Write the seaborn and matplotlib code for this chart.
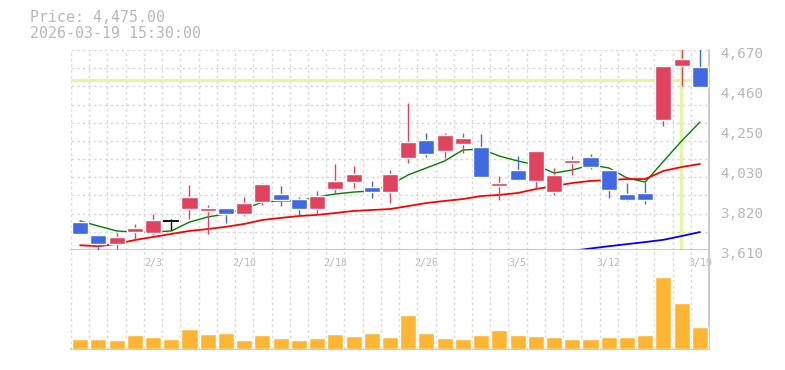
import numpy as np
import pandas as pd
import matplotlib
matplotlib.use('Agg')
import matplotlib.pyplot as plt
import matplotlib.transforms as mtransforms
import seaborn as sns

dates = ['1/28', '1/29', '1/30', '2/2', '2/3', '2/4', '2/5', '2/6', '2/9', '2/10',
         '2/12', '2/13', '2/16', '2/17', '2/18', '2/19', '2/20', '2/24', '2/25', '2/26',
         '2/27', '3/2', '3/3', '3/4', '3/5', '3/6', '3/9', '3/10', '3/11', '3/12',
         '3/13', '3/16', '3/17', '3/18', '3/19']
open_price = [3758, 3689, 3643, 3705, 3702, 3764, 3827, 3818, 3833, 3801,
              3866, 3907, 3880, 3827, 3933, 3970, 3944, 3917, 4099, 4193,
              4136, 4172, 4156, 3951, 4034, 3976, 3917, 4071, 4103, 4034,
              3907, 3912, 4299, 4585, 4580]
close_price = [3695, 3643, 3679, 3727, 3769, 3764, 3891, 3833, 3801, 3859,
               3960, 3875, 3827, 3896, 3976, 4013, 3917, 4013, 4182, 4119,
               4220, 4204, 3999, 3965, 3981, 4135, 4008, 4087, 4050, 3928,
               3875, 3875, 4585, 4622, 4475]
high_price = [3769, 3695, 3700, 3748, 3801, 3774, 3955, 3849, 3833, 3891,
              3965, 3949, 3891, 3923, 4066, 4055, 3976, 4034, 4389, 4230,
              4230, 4230, 4225, 4004, 4108, 4135, 4045, 4108, 4119, 4034,
              3965, 3970, 4585, 4720, 4720]
low_price = [3695, 3609, 3613, 3656, 3688, 3716, 3774, 3695, 3753, 3790,
             3849, 3843, 3796, 3796, 3907, 3939, 3886, 3859, 4071, 4103,
             4099, 4126, 3999, 3875, 3976, 3939, 3902, 4008, 4039, 3886,
             3870, 3854, 4267, 4479, 4475]
ma5 = [3764, 3737, 3711, 3705, 3705, 3711, 3758, 3785, 3801, 3827,
       3864, 3870, 3870, 3891, 3907, 3917, 3923, 3955, 4008, 4045,
       4082, 4140, 4145, 4108, 4082, 4061, 4018, 4034, 4061, 4045,
       3992, 3970, 4080, 4188, 4288]
ma25 = [3635, 3630, 3642, 3663, 3679, 3695, 3711, 3721, 3733, 3748,
        3769, 3780, 3790, 3796, 3806, 3817, 3822, 3827, 3843, 3859,
        3870, 3880, 3896, 3902, 3912, 3933, 3949, 3965, 3976, 3981,
        3986, 3986, 4029, 4050, 4066]
ma75 = [np.nan] * 27 + [3605, 3618, 3630, 3641, 3652, 3664, 3684, 3705]
volume = [100, 100, 90, 140, 120, 100, 200, 150, 160, 90,
          140, 110, 90, 110, 150, 130, 160, 120, 340, 160,
          110, 100, 140, 190, 140, 130, 120, 100, 100, 120,
          120, 140, 720, 460, 220]
price_ticks = [3610, 3822, 4034, 4246, 4458, 4670]
price_labels = ['3,610', '3,820', '4,030', '4,250', '4,460', '4,670']
date_ticks = [4, 9, 14, 19, 24, 29, 34]

sns.set_style('white')
plt.rcParams['font.family'] = ['DejaVu Sans Mono']

up_color = '#e0435e'
down_color = '#4169e1'
grid_color = '#dadada'
spine_color = '#c2c2c2'
text_color = '#b8b8b8'
cross_color = '#e4f5a6'

idx = np.arange(len(dates))
df = pd.DataFrame({'idx': idx, 'open': open_price, 'close': close_price,
                   'high': high_price, 'low': low_price, 'ma5': ma5,
                   'ma25': ma25, 'ma75': ma75, 'volume': volume})

fig = plt.figure(figsize=(7.85, 3.70), dpi=100)
ax = fig.add_axes([71 / 785, 1 - 250 / 370, 638 / 785, 200 / 370])
vax = fig.add_axes([71 / 785, 1 - 349 / 370, 638 / 785, 99 / 370])

# moving averages
sns.lineplot(data=df, x='idx', y='ma5', ax=ax, color='#008000', lw=1, zorder=2)
sns.lineplot(data=df, x='idx', y='ma25', ax=ax, color='#ff0000', lw=1.3, zorder=2)
sns.lineplot(data=df.dropna(), x='idx', y='ma75', ax=ax, color='#0000ff', lw=1.3, zorder=2)

# candles
colors = []
for o, c in zip(df['open'], df['close']):
    if c > o:
        colors.append(up_color)
    elif c < o:
        colors.append(down_color)
    else:
        colors.append('black')
body_low = np.minimum(df['open'], df['close'])
body_h = np.abs(df['close'] - df['open'])
ax.vlines(idx, df['low'], df['high'], colors=colors, lw=1, zorder=3)
ax.bar(idx, body_h, bottom=body_low, width=0.88, color=colors, zorder=4)
doji = df['open'] == df['close']
ax.hlines(df['open'][doji], idx[doji] - 0.44, idx[doji] + 0.44, colors='black', lw=1.3, zorder=4)

# crosshair
ax.axhline(4511, color=cross_color, lw=2.3, zorder=1.6)
ax.axvline(32.97, ymin=0.01, color=cross_color, lw=2.3, zorder=1.6)

ax.set_xlim(-0.5, 34.5)
ax.set_ylim(3610, 4670)
ax.set_xlabel('')
ax.set_ylabel('')
ax.set_xticks([])
ax.set_xticks(np.arange(-0.5, 35, 1), minor=True)
ax.set_yticks(price_ticks, price_labels)
ax.set_yticks(np.linspace(3610, 4670, 12), minor=True)
ax.yaxis.remove_overlapping_locs = False
ax.yaxis.tick_right()
ax.tick_params(axis='both', which='both', length=0)
ax.tick_params(axis='y', pad=8, labelsize=10.3, labelcolor=text_color)
for lab in ax.get_yticklabels():
    lab.set_transform(lab.get_transform() + mtransforms.ScaledTranslation(0, -2.5 / 100, fig.dpi_scale_trans))
ax.grid(False)
ax.grid(True, which='minor', color=grid_color, linestyle=(0, (2, 2)), lw=1)
for side in ['top', 'left']:
    ax.spines[side].set_visible(False)
for side in ['right', 'bottom']:
    ax.spines[side].set_color(spine_color)
    ax.spines[side].set_linewidth(1.2)

# volume
sns.barplot(data=df, x='idx', y='volume', ax=vax, color='#fcb634', width=0.88,
            saturation=1, zorder=3)
vax.set_xlim(-0.5, 34.5)
vax.set_ylim(0, 990)
vax.set_xlabel('')
vax.set_ylabel('')
vax.set_yticks([])
vax.xaxis.tick_top()
vax.set_xticks(date_ticks, [dates[i] for i in date_ticks])
vax.set_xticks(np.arange(-0.5, 35, 1), minor=True)
vax.tick_params(axis='x', which='both', length=0)
vax.tick_params(axis='x', which='major', pad=-13, labelsize=7.2, labelcolor=text_color)
vax.grid(False)
vax.xaxis.grid(True, which='minor', color=grid_color, linestyle=(0, (2, 2)), lw=1)
vax.set_axisbelow(True)
for side in ['top', 'left']:
    vax.spines[side].set_visible(False)
for side in ['right', 'bottom']:
    vax.spines[side].set_color(spine_color)
    vax.spines[side].set_linewidth(1.2)

fig.text(30 / 785, 1 - 18 / 370, 'Price: 4,475.00', ha='left', va='center',
         fontsize=10.7, color=text_color)
fig.text(30 / 785, 1 - 33.5 / 370, '2026-03-19 15:30:00', ha='left', va='center',
         fontsize=10.7, color=text_color)

fig.savefig('out.png', dpi=100)
